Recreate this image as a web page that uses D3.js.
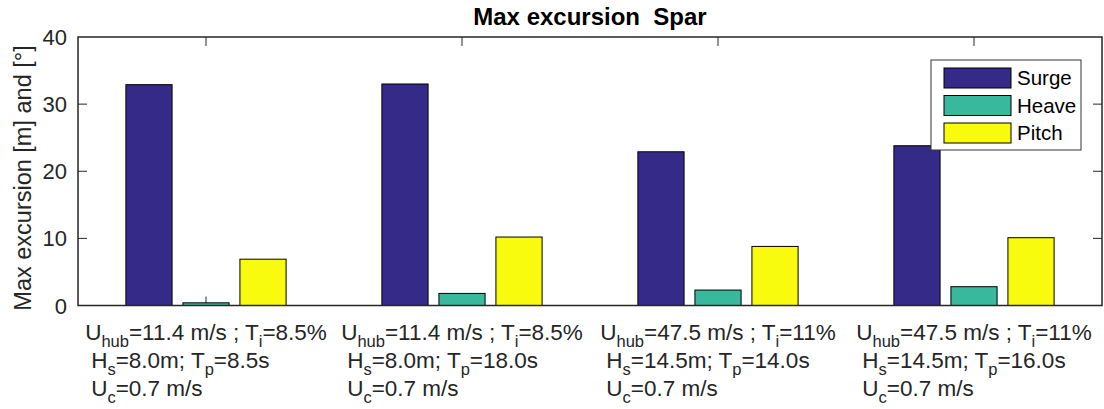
<!DOCTYPE html>
<html>
<head>
<meta charset="utf-8">
<script src="https://cdn.jsdelivr.net/npm/d3@7"></script>
<style>
  body { margin: 0; background: #fff; }
  svg { font-family: "Liberation Sans", Arial, sans-serif; }
  text, tspan { white-space: pre; }
</style>
</head>
<body>
<div id="chart"></div>
<script>
// ---------- data ----------
var cases = ["c1", "c2", "c3", "c4"]
var series = ["Surge", "Heave", "Pitch"]
var surge = [32.9, 33.0, 22.9, 23.8]
var heave = [0.4, 1.8, 2.3, 2.8]
var pitch = [6.9, 10.2, 8.8, 10.1]
var colors = ["#352a87", "#38b99e", "#f9fb0e"]
var yTicks = [0, 10, 20, 30, 40]

// tick label pieces
var uhub = ["11.4", "11.4", "47.5", "47.5"]
var ti = ["8.5%", "8.5%", "11%", "11%"]
var hs = ["8.0m", "8.0m", "14.5m", "14.5m"]
var tp = ["8.5s", "18.0s", "14.0s", "16.0s"]
var uc = ["0.7 m/s", "0.7 m/s", "0.7 m/s", "0.7 m/s"]

var values = [surge, heave, pitch]

function drawChart() {

// ---------- layout ----------
var W = 1104, H = 409
var mLeft = 78, mRight = 1102, mTop = 37, mBottom = 305.5
var tickLen = 9
var axisColor = "#262626"

var svg = d3.select("#chart").append("svg")
  .attr("width", W)
  .attr("height", H)

var x0 = d3.scaleBand()
  .domain(cases)
  .range([mLeft, mRight])
  .padding(0)

var x1 = d3.scaleBand()
  .domain(series)
  .range([0, x0.bandwidth()])
  .paddingInner(0.19)
  .paddingOuter(0.84)

var y = d3.scaleLinear()
  .domain([0, 40])
  .range([mBottom, mTop])

// ---------- ticks (under the bars) ----------
var ticksG = svg.append("g")
  .attr("stroke", axisColor)
  .attr("stroke-width", 1)

ticksG.selectAll(".yl").data(yTicks.slice(1, 4)).enter().append("line")
  .attr("x1", mLeft).attr("x2", mLeft + tickLen)
  .attr("y1", function(d) { return y(d) }).attr("y2", function(d) { return y(d) })
ticksG.selectAll(".yr").data(yTicks.slice(1, 4)).enter().append("line")
  .attr("x1", mRight - tickLen).attr("x2", mRight)
  .attr("y1", function(d) { return y(d) }).attr("y2", function(d) { return y(d) })
ticksG.selectAll(".xb").data(cases).enter().append("line")
  .attr("x1", function(d) { return x0(d) + x0.bandwidth() / 2 })
  .attr("x2", function(d) { return x0(d) + x0.bandwidth() / 2 })
  .attr("y1", mBottom).attr("y2", mBottom - tickLen)
ticksG.selectAll(".xt").data(cases).enter().append("line")
  .attr("x1", function(d) { return x0(d) + x0.bandwidth() / 2 })
  .attr("x2", function(d) { return x0(d) + x0.bandwidth() / 2 })
  .attr("y1", mTop).attr("y2", mTop + tickLen)

// ---------- bars ----------
var groups = svg.append("g").selectAll("g")
  .data(cases)
  .enter().append("g")
    .attr("transform", function(d) { return "translate(" + x0(d) + ",0)" })

groups.selectAll("rect")
  .data(function(d, i) {
    return series.map(function(s, j) { return { key: s, value: values[j][i], k: j } })
  })
  .enter().append("rect")
    .attr("x", function(d) { return x1(d.key) })
    .attr("width", x1.bandwidth())
    .attr("y", function(d) { return y(d.value) })
    .attr("height", function(d) { return y(0) - y(d.value) })
    .attr("fill", function(d) { return colors[d.k] })
    .attr("stroke", "#000")
    .attr("stroke-width", 1)

// ---------- box ----------
svg.append("rect")
  .attr("x", mLeft).attr("y", mTop)
  .attr("width", mRight - mLeft).attr("height", mBottom - mTop)
  .attr("fill", "none")
  .attr("stroke", axisColor)
  .attr("stroke-width", 1.5)

// ---------- y tick labels ----------
svg.selectAll(".ylab").data(yTicks).enter().append("text")
  .attr("x", mLeft - 11)
  .attr("y", function(d) { return y(d) + 8 })
  .attr("text-anchor", "end")
  .style("font-size", "22px")
  .style("fill", axisColor)
  .text(function(d) { return d })

// y axis title
svg.append("text")
  .attr("transform", "translate(31,178) rotate(-90)")
  .attr("text-anchor", "middle")
  .style("font-size", "23.5px")
  .style("fill", axisColor)
  .text("Max excursion [m] and [°]")

// title
svg.append("text")
  .attr("x", (mLeft + mRight) / 2)
  .attr("y", 25)
  .attr("text-anchor", "middle")
  .style("font-size", "24px")
  .style("font-weight", "bold")
  .style("fill", "#000")
  .text("Max excursion  Spar")

// ---------- x tick labels (multi-line with subscripts) ----------
function lineParts(i) {
  return [
    [["U", 0], ["hub", 1], ["=" + uhub[i] + " m/s ; T", 0], ["i", 1], ["=" + ti[i], 0]],
    [["H", 0], ["s", 1], ["=" + hs[i] + "; T", 0], ["p", 1], ["=" + tp[i], 0]],
    [["U", 0], ["c", 1], ["=" + uc[i], 0]]
  ]
}
var lineY = [340, 368, 396]
var lineIndent = [0, 6, 6]

cases.forEach(function(c, i) {
  var cx = x0(c) + x0.bandwidth() / 2
  var g = svg.append("g")
  var texts = lineParts(i).map(function(parts, li) {
    var t = g.append("text")
      .attr("y", lineY[li])
      .style("font-size", "22.5px")
      .style("fill", axisColor)
    parts.forEach(function(p, pi) {
      var prevSub = pi > 0 && parts[pi - 1][1]
      var ts = t.append("tspan").text(p[0])
      if (p[1]) ts.style("font-size", "16.5px").attr("dy", 7)
      else if (prevSub) ts.attr("dy", -7)
    })
    return t
  })
  var w = texts[0].node().getComputedTextLength()
  texts.forEach(function(t, li) { t.attr("x", cx - w / 2 + lineIndent[li]) })
})

// ---------- legend ----------
var lg = svg.append("g").attr("transform", "translate(931,60)")
lg.append("rect")
  .attr("width", 150).attr("height", 90)
  .attr("fill", "#fff")
  .attr("stroke", "#333")
  .attr("stroke-width", 1)
series.forEach(function(s, i) {
  lg.append("rect")
    .attr("x", 13).attr("y", 8 + i * 27.5)
    .attr("width", 67).attr("height", 20)
    .attr("fill", colors[i])
    .attr("stroke", "#000")
  lg.append("text")
    .attr("x", 86).attr("y", 8 + i * 27.5 + 17)
    .style("font-size", "20.5px")
    .style("fill", "#000")
    .text(s)
})

}

drawChart()
</script>
</body>
</html>
